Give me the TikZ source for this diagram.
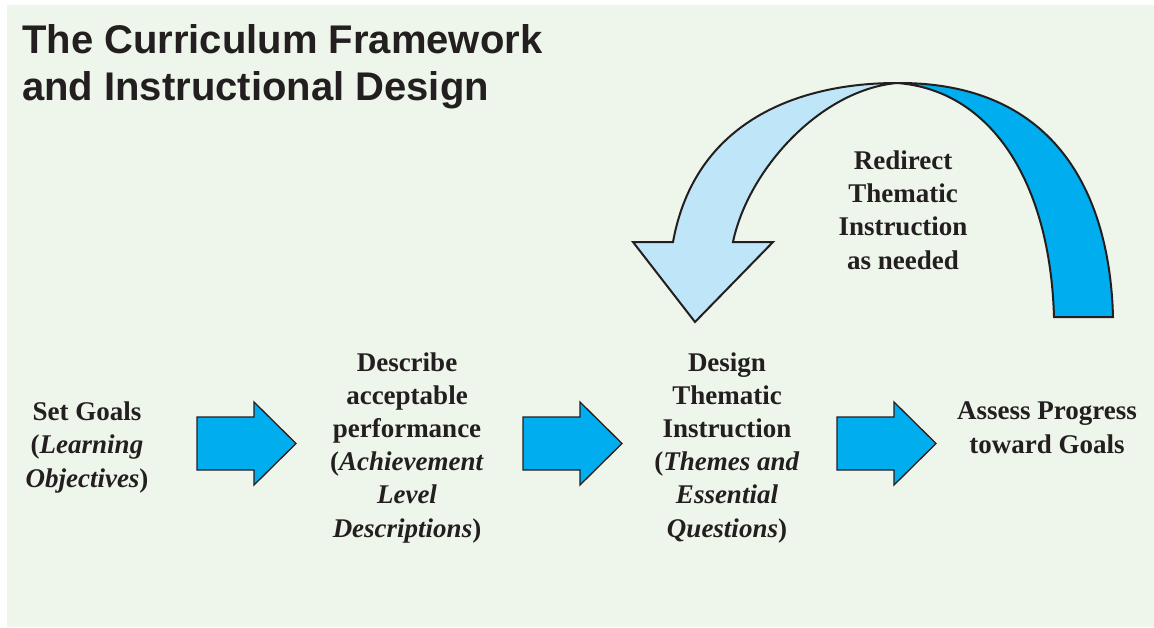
\documentclass[tikz,border=0pt]{standalone}
\usepackage{fontspec}
\setmainfont{Liberation Serif}
\newfontfamily\titlefont{Liberation Sans}
\begin{document}
\begin{tikzpicture}[x=1pt,y=-1pt]
\definecolor{panel}{RGB}{238,245,234}
\definecolor{ink}{RGB}{35,31,32}
\definecolor{cyanfill}{RGB}{0,174,239}
\definecolor{lightfill}{RGB}{190,229,248}
\tikzset{
  lbl/.style={font=\fontsize{27}{33.2}\selectfont\bfseries, align=center, inner sep=0pt, text=ink},
  ttl/.style={font=\titlefont\fontsize{40}{47}\selectfont\bfseries, align=left, inner sep=0pt, text=ink},
  arrowbody/.style={fill=cyanfill, draw=ink, line width=1.3pt, line join=miter},
  curvedark/.style={fill=cyanfill, draw=ink, line width=2pt, line join=miter},
  curvelight/.style={fill=lightfill, draw=ink, line width=2pt, line join=miter},
  blockarrow/.pic={\path[arrowbody] (0,0) -- (0,-26.5) -- (57,-26.5) -- (57,-41.5) -- (99,0) -- (57,41.5) -- (57,26.5) -- (0,26.5) -- cycle;}
}
\useasboundingbox (0,0) rectangle (1154,627);
\fill[white] (0,0) rectangle (1154,627);
\fill[panel] (7,5) rectangle (1154,627);

% title (anchor = baseline of the last line)
\node[ttl, anchor=base west] (title) at (22,100) {The Curriculum Framework\\and Instructional Design};

% step labels (anchor = baseline of the last line)
\node[lbl, anchor=base] (goals) at (87,487) {Set Goals\\(\textit{Learning}\\\textit{Objectives})};
\node[lbl, anchor=base] (describe) at (407,537) {Describe\\acceptable\\performance\\(\textit{Achievement}\\\textit{Level}\\\textit{Descriptions})};
\node[lbl, anchor=base] (design) at (727,537) {Design\\Thematic\\Instruction\\(\textit{Themes and}\\\textit{Essential}\\\textit{Questions})};
\node[lbl, anchor=base] (assess) at (1047,453) {Assess Progress\\toward Goals};
\node[lbl, anchor=base] (redirect) at (903,269) {Redirect\\Thematic\\Instruction\\as needed};

% block arrows
\pic (a1) at (197,443.5) {blockarrow};
\pic (a2) at (523,443.5) {blockarrow};
\pic (a3) at (837,443.5) {blockarrow};

% curved feedback arrow
\path[curvedark] (897,83) .. controls (1060,82) and (1110,200) .. (1113,317) -- (1054,317) .. controls (1050,180) and (990,90) .. (897,83) -- cycle;
\path[curvelight] (633,242) -- (673,242) .. controls (695,120) and (800,83) .. (897,83) .. controls (820,90) and (748,170) .. (733,242) -- (773,242) -- (695,322) -- cycle;
\end{tikzpicture}
\end{document}
